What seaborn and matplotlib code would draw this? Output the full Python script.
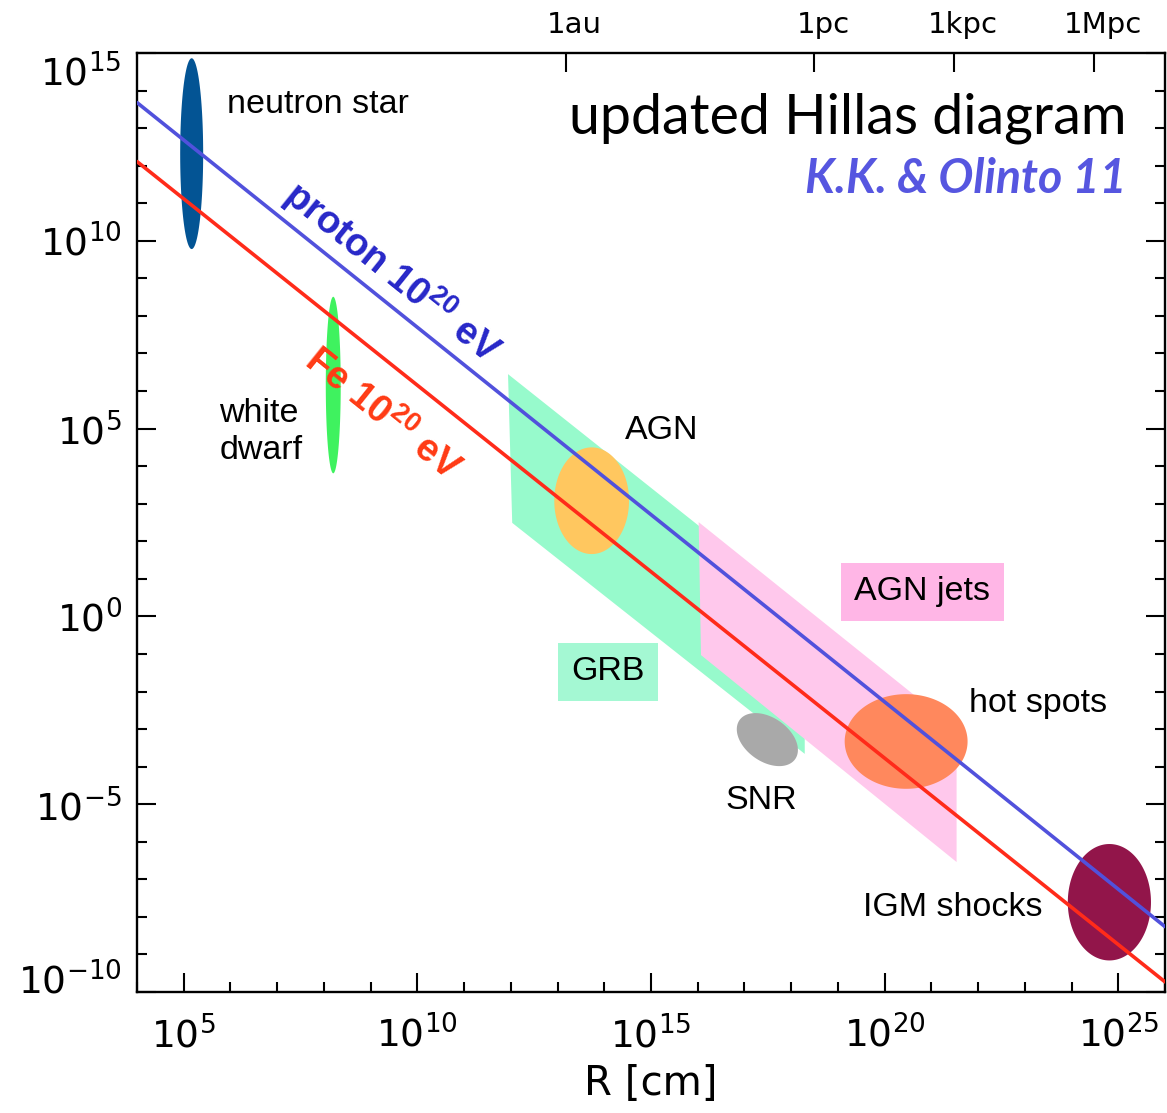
import numpy as np
import pandas as pd
import matplotlib
matplotlib.use("Agg")
import matplotlib.pyplot as plt
import matplotlib.transforms as mtransforms
from matplotlib.ticker import FixedLocator, FuncFormatter, NullLocator, NullFormatter
import seaborn as sns

# ---------------- data ----------------
line_R = [1e4, 1e26]
proton_B = [10**13.68, 10**-8.26]
fe_B = [10**12.11, 10**-9.73]

# ellipses: log10 centre and half-extent (decades); tilt = correlation term
ell_names = ["neutron star", "white dwarf", "AGN", "hot spots", "IGM shocks", "SNR"]
ell_logR = [5.17, 8.20, 13.73, 20.46, 24.81, 17.49]
ell_logB = [12.32, 6.16, 3.08, -3.33, -7.61, -3.28]
ell_dR = [0.246, 0.16, 0.80, 1.315, 0.89, 0.654]
ell_dB = [2.54, 2.35, 1.42, 1.26, 1.55, 0.706]
ell_tilt = [0.0, 0.0, 0.0, 0.0, 0.0, -0.39]
ell_colors = ["#035494", "#3ff25f", "#ffc75f", "#ff885d", "#92154a", "#a9a9a9"]

# source regions (parallelograms), log10 vertices
grb_logR = [11.94, 12.03, 18.29, 18.29]
grb_logB = [6.45, 2.49, -3.66, 0.17]
jets_logR = [16.02, 16.07, 21.54, 21.54]
jets_logB = [2.51, -1.03, -6.54, -3.00]

# plain labels
label_text = ["neutron star", "white\ndwarf", "AGN", "SNR", "hot spots", "IGM shocks"]
label_logR = [5.93, 5.76, 15.23, 17.35, 21.80, 21.46]
label_logB = [13.62, 4.91, 4.96, -4.89, -2.31, -7.76]
label_ha = ["left", "left", "center", "center", "left", "center"]

# boxed labels
box_text = ["AGN jets", "GRB"]
box_logR = [20.81, 14.08]
box_logB = [0.65, -1.48]
box_colors = ["#ffb6e6", "#a4f8d3"]

x_major = [1e5, 1e10, 1e15, 1e20, 1e25]
y_major = [1e-10, 1e-5, 1e0, 1e5, 1e10, 1e15]
top_ticks = [1.496e13, 3.086e18, 3.086e21, 3.086e24]
top_labels = ["1au", "1pc", "1kpc", "1Mpc"]

# ---------------- style ----------------
sns.set_style("ticks")
plt.rcParams["font.family"] = ["DejaVu Sans"]
plt.rcParams["text.color"] = "black"
plt.rcParams["axes.labelcolor"] = "black"
plt.rcParams["xtick.color"] = "black"
plt.rcParams["ytick.color"] = "black"

W, H = 1167, 1113
fig = plt.figure(figsize=(W / 100, H / 100), dpi=100)
ax = fig.add_axes([137 / W, 1 - 992 / H, (1165 - 137) / W, (992 - 53) / H])
ax.set_xscale("log")
ax.set_yscale("log")
ax.set_xlim(1e4, 1e26)
ax.set_ylim(1e-10, 1e15)

# regions
ax.fill(np.power(10.0, grb_logR), np.power(10.0, grb_logB), color="#97facc", lw=0, zorder=1)
ax.fill(np.power(10.0, jets_logR), np.power(10.0, jets_logB), color="#ffc8ec", lw=0, zorder=2)

# ellipses
t = np.linspace(0, 2 * np.pi, 300)
for cx, cy, dx, dy, rho, col in zip(ell_logR, ell_logB, ell_dR, ell_dB, ell_tilt, ell_colors):
    xs = cx + dx * np.cos(t)
    ys = cy + dy * (rho * np.cos(t) + np.sqrt(1 - rho**2) * np.sin(t))
    ax.fill(np.power(10.0, xs), np.power(10.0, ys), color=col, lw=0, zorder=3)

# Hillas lines
df = pd.DataFrame({"R": line_R * 2, "B": proton_B + fe_B,
                   "species": ["proton"] * 2 + ["Fe"] * 2})
sns.lineplot(data=df, x="R", y="B", hue="species",
             palette={"proton": "#5151dc", "Fe": "#ff2b1a"},
             lw=2.6, legend=False, ax=ax, zorder=5, sort=False)
ax.set_ylabel("")

# ticks
ax.xaxis.set_major_locator(FixedLocator(x_major))
ax.xaxis.set_minor_locator(FixedLocator([10.0**k for k in range(4, 27) if k % 5]))
ax.yaxis.set_major_locator(FixedLocator(y_major))
ax.yaxis.set_minor_locator(FixedLocator([10.0**k for k in range(-10, 16) if k % 5]))
fmt = FuncFormatter(lambda v, p: r"$\mathregular{10^{%d}}$" % int(round(np.log10(v))))
ax.xaxis.set_major_formatter(fmt)
ax.yaxis.set_major_formatter(fmt)
ax.xaxis.set_minor_formatter(NullFormatter())
ax.yaxis.set_minor_formatter(NullFormatter())
ax.tick_params(which="both", direction="in", right=True, top=False, width=1.5,
               color="black", labelsize=27, labelcolor="black")
ax.tick_params(which="major", length=14)
ax.tick_params(which="minor", length=7)
ax.tick_params(axis="x", which="major", pad=17)
ax.tick_params(axis="y", which="major", pad=11)
for s in ax.spines.values():
    s.set_linewidth(1.7)
    s.set_color("black")
    s.set_visible(True)

ax.set_xlabel("R [cm]", fontsize=29, labelpad=6, color="black")

# top axis (length units)
ax2 = ax.twiny()
ax2.set_xscale("log")
ax2.set_xlim(ax.get_xlim())
ax2.xaxis.set_major_locator(FixedLocator(top_ticks))
ax2.xaxis.set_minor_locator(NullLocator())
ax2.set_xticklabels(top_labels)
ax2.tick_params(axis="x", which="major", direction="in", length=14, width=1.5,
                labelsize=21, pad=10, color="black", labelcolor="black")
for s in ax2.spines.values():
    s.set_visible(False)

# IDL-like inward shift of end tick labels
yt = ax.yaxis.get_major_ticks()
yt[-1].label1.set_transform(yt[-1].label1.get_transform() +
                            mtransforms.ScaledTranslation(0, -16 / 100, fig.dpi_scale_trans))
yt[0].label1.set_transform(yt[0].label1.get_transform() +
                           mtransforms.ScaledTranslation(0, 13 / 100, fig.dpi_scale_trans))
for tk in ax2.xaxis.get_major_ticks():
    tk.label2.set_transform(tk.label2.get_transform() +
                            mtransforms.ScaledTranslation(9 / 100, 0, fig.dpi_scale_trans))

# labels
for txt, lr, lb, ha in zip(label_text, label_logR, label_logB, label_ha):
    ax.text(10**lr, 10**lb, txt, ha=ha, va="center", fontsize=24.5,
            family="Liberation Sans", color="black", zorder=6, linespacing=1.25)
for txt, lr, lb, fc in zip(box_text, box_logR, box_logB, box_colors):
    ax.text(10**lr, 10**lb, txt, ha="center", va="center", fontsize=24.5,
            family="Liberation Sans", color="black", zorder=6,
            bbox=dict(boxstyle="square,pad=0.4", fc=fc, ec="none"))

# rotated line labels
p0 = ax.transData.transform((1e5, 1e10))
p1 = ax.transData.transform((1e6, 1e9))
ang = np.degrees(np.arctan2(p1[1] - p0[1], p1[0] - p0[0]))
ax.text(10**9.46, 10**9.17, r"proton $\mathregular{10^{20}}$ eV", rotation=ang,
        rotation_mode="anchor", ha="center", va="center", fontsize=27.5,
        fontweight="bold", family="Liberation Sans", color="#2727c8", zorder=6)
ax.text(10**9.245, 10**5.36, r"Fe $\mathregular{10^{20}}$ eV", rotation=ang,
        rotation_mode="anchor", ha="center", va="center", fontsize=27.5,
        fontweight="bold", family="Liberation Sans", color="#ff3a14", zorder=6)

# title
ax.text(0.963, 0.9145, "updated Hillas diagram", transform=ax.transAxes,
        ha="right", va="baseline", fontsize=40, family="Lato", fontweight="normal",
        color="black", zorder=6)
ax.text(0.963, 0.851, "K.K. & Olinto 11", transform=ax.transAxes,
        ha="right", va="baseline", fontsize=33.5, family="Lato", fontweight="bold",
        style="italic", color="#5656e0", zorder=6)

fig.savefig("out.png", dpi=100)
